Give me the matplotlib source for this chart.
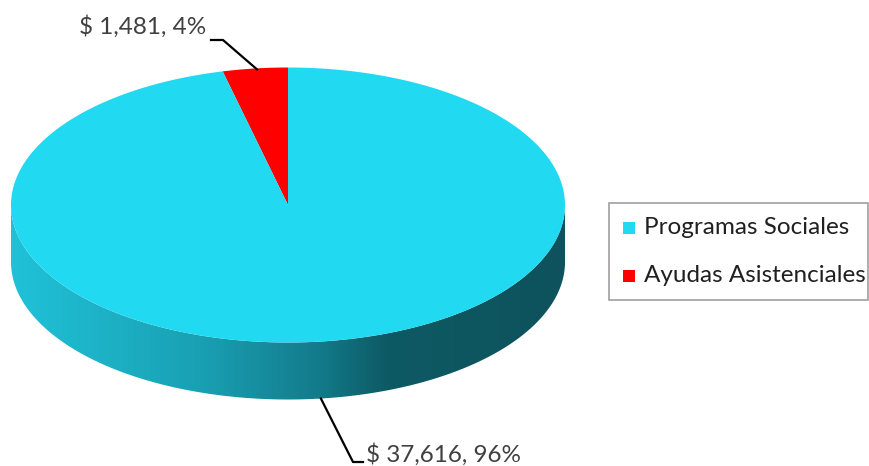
import numpy as np
import matplotlib
matplotlib.use("Agg")
import matplotlib.pyplot as plt
from matplotlib.patches import Polygon
from matplotlib.colors import LinearSegmentedColormap

# data
categories = ["Programas Sociales", "Ayudas Asistenciales"]
amounts = [37616, 1481]
labels = ["$ 37,616, 96%", "$ 1,481, 4%"]
colors = ["#21d9f0", "#ff0000"]

plt.rcParams["font.family"] = ["Lato", "DejaVu Sans"]

W, H = 870, 466
fig = plt.figure(figsize=(W / 100, H / 100), dpi=100)
ax = fig.add_axes([0, 0, 1, 1])
ax.set_xlim(0, W)
ax.set_ylim(H, 0)
ax.axis("off")

# pie geometry (pixel space)
cx, cy, rx, ry, depth = 288, 205, 277, 137.5, 57


def ell(t, dy=0.0):
    t = np.radians(t)
    return cx + rx * np.cos(t), cy - ry * np.sin(t) + dy


# side wall (front half)
ts = np.linspace(180, 360, 200)
xt, yt = ell(ts)
xb, yb = ell(ts[::-1], depth)
side = Polygon(np.column_stack([np.r_[xt, xb], np.r_[yt, yb]]), closed=True,
               facecolor="none", edgecolor="none")
ax.add_patch(side)
side_cmap = LinearSegmentedColormap.from_list(
    "side", [(0.0, "#20c2d8"), (0.35, "#199fb2"), (0.55, "#137c8c"),
             (0.68, "#0e5a64"), (1.0, "#0d525c")])
grad = np.linspace(0, 1, 256)[None, :]
im = ax.imshow(grad, cmap=side_cmap, aspect="auto",
               extent=(cx - rx, cx + rx, cy + ry + depth + 2, cy - 2), zorder=1)
im.set_clip_path(side)

# top slices
fracs = np.array(amounts) / sum(amounts)
start = 90.0
spans = fracs * 360
# red slice goes counter-clockwise from 12 o'clock, blue takes the rest
order = [1, 0]
mids = {}
for i in order:
    a0, a1 = start, start + spans[i]
    tt = np.linspace(a0, a1, 300)
    x, y = ell(tt)
    ax.add_patch(Polygon(np.column_stack([np.r_[cx, x], np.r_[cy, y]]), closed=True,
                         facecolor=colors[i], edgecolor="none", zorder=2))
    mids[i] = (a0 + a1) / 2
    start = a1

# data labels with leader lines
mx, my = ell(mids[1])
ax.plot([211, 223, mx + 2, ], [40, 40, my + 1], color="black", lw=1.6, zorder=3)
ax.text(206, 27, labels[1], ha="right", va="center", fontsize=17.5, color="#404040")

mx, my = ell(mids[0], depth)
ax.plot([mx, 353, 363], [my, 462, 462], color="black", lw=1.6, zorder=3)
ax.text(366, 455, labels[0], ha="left", va="center", fontsize=17.5, color="#404040")

# legend
ax.add_patch(plt.Rectangle((609, 203), 259, 97, facecolor="white",
                           edgecolor="#a0a0a0", lw=1.2, zorder=3))
for k, yk in enumerate([228, 276]):
    ax.add_patch(plt.Rectangle((623, yk - 6), 12, 12, facecolor=colors[k],
                               edgecolor="none", zorder=4))
    ax.text(644, yk, categories[k], ha="left", va="center", fontsize=17.5,
            color="#202020", zorder=4)

fig.savefig("out.png", dpi=100)
